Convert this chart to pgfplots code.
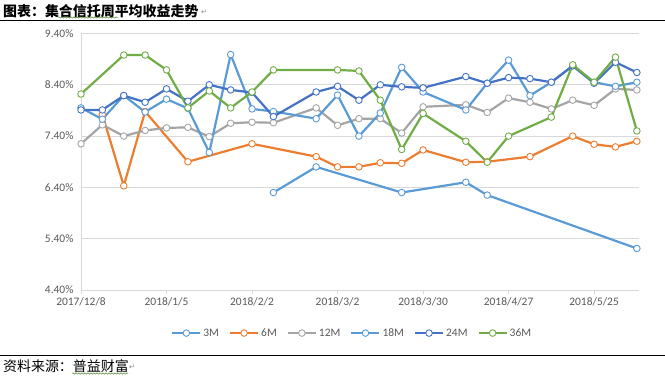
\documentclass[border=0pt]{standalone}
\usepackage{fontspec}
\setmainfont{Carlito}
\newfontfamily\cjk{Noto Sans CJK SC}
\newfontfamily\djv{DejaVu Sans}
\usepackage{pgfplots}
\pgfplotsset{compat=1.18}
\usetikzlibrary{decorations.pathmorphing}
\definecolor{cLB}{HTML}{5B9BD5}
\definecolor{cOR}{HTML}{ED7D31}
\definecolor{cGR}{HTML}{A5A5A5}
\definecolor{cDB}{HTML}{4472C4}
\definecolor{cGN}{HTML}{70AD47}
\definecolor{gridc}{HTML}{D9D9D9}
\definecolor{txt}{HTML}{595959}
\begin{document}
\begin{tikzpicture}
\path[use as bounding box] (0bp,0bp) rectangle (665bp,380bp);
% title
\node[anchor=west, inner sep=0pt] at (3bp,369bp) {\cjk\bfseries\fontsize{14}{16}\selectfont 图表：集合信托周平均收益走势};
\node[anchor=west, inner sep=0pt, text=gray] at (201bp,368bp) {\djv\fontsize{7}{8}\selectfont ↵};
\draw[line width=1.6bp] (0bp,359.3bp) -- (665bp,359.3bp);
\draw[cGN!80!black, line width=0.5bp, decorate, decoration={snake, amplitude=0.7bp, segment length=3bp}] (58bp,362.5bp) -- (118bp,362.5bp);
% footer
\draw[line width=1.2bp] (0bp,24.5bp) -- (665bp,24.5bp);
\node[anchor=west, inner sep=0pt] at (3bp,14bp) {\cjk\fontsize{14}{16}\selectfont 资料来源：普益财富};
\node[anchor=west, inner sep=0pt, text=gray] at (129bp,13bp) {\djv\fontsize{7}{8}\selectfont ↵};
\draw[cGN!80!black, line width=0.5bp, decorate, decoration={snake, amplitude=0.7bp, segment length=3bp}] (72bp,6.5bp) -- (128bp,6.5bp);
\begin{axis}[
  at={(81bp,90bp)}, anchor=south west,
  scale only axis, width=558bp, height=256.5bp,
  xmin=0, xmax=26.1, ymin=4.4, ymax=9.4,
  axis lines*=left,
  axis line style={draw=gridc, line width=0.75pt},
  ymajorgrids, grid style={draw=gridc, line width=0.75pt},
  xtick={0,4,8,12,16,20,24},
  xticklabels={2017/12/8,2018/1/5,2018/2/2,2018/3/2,2018/3/30,2018/4/27,2018/5/25},
  ytick={4.4,5.4,6.4,7.4,8.4,9.4},
  yticklabels={4.40\%,5.40\%,6.40\%,7.40\%,8.40\%,9.40\%},
  tick label style={font=\fontsize{11.5}{13}\selectfont, text=txt},
  x tick style={draw=gridc, line width=0.75pt},
  major tick length=4bp, tick align=outside,
  y tick style={draw=none},
  legend columns=6,
  legend style={draw=none, fill=none, at={(0.486,-0.168)}, anchor=center,
    font=\fontsize{11.5}{13}\selectfont, text=txt,
    /tikz/every even column/.append style={column sep=8bp}},
  legend image code/.code={\draw[mark repeat=2,mark phase=2] plot coordinates {(0bp,0bp) (14bp,0bp) (28bp,0bp)};},
  every axis plot/.append style={line width=2.2pt, line join=round, mark=*, mark size=3.3pt, mark options={fill=white, line width=0.9pt, solid}},
  clip=false,
]
\addplot[color=cLB] coordinates {(9,6.30) (11,6.80) (15,6.30) (18,6.50) (19,6.25) (26,5.21)};
\addlegendentry{3M}
\addplot[color=cOR] coordinates {(1,7.82) (2,6.43) (3,7.88) (5,6.90) (8,7.25) (11,7.00) (12,6.80) (13,6.80) (14,6.88) (15,6.87) (16,7.13) (18,6.89) (19,6.90) (21,7.00) (23,7.40) (24,7.24) (25,7.19) (26,7.30)};
\addlegendentry{6M}
\addplot[color=cGR] coordinates {(0,7.25) (1,7.62) (2,7.40) (3,7.51) (4,7.56) (5,7.57) (6,7.39) (7,7.65) (8,7.67) (9,7.66) (11,7.95) (12,7.61) (13,7.74) (14,7.74) (15,7.46) (16,7.97) (18,8.01) (19,7.86) (20,8.14) (21,8.06) (22,7.93) (23,8.10) (24,8.00) (25,8.32) (26,8.30)};
\addlegendentry{12M}
\addplot[color=cLB] coordinates {(0,7.95) (1,7.73) (2,8.19) (3,7.87) (4,8.12) (5,7.94) (6,7.08) (7,8.99) (8,7.93) (9,7.88) (11,7.74) (12,8.20) (13,7.40) (14,7.85) (15,8.74) (16,8.26) (18,7.91) (19,8.43) (20,8.88) (21,8.19) (22,8.45) (23,8.77) (24,8.45) (25,8.37) (26,8.45)};
\addlegendentry{18M}
\addplot[color=cDB] coordinates {(0,7.91) (1,7.91) (2,8.19) (3,8.06) (4,8.32) (5,8.08) (6,8.40) (7,8.30) (8,8.25) (9,7.78) (11,8.26) (12,8.37) (13,8.10) (14,8.40) (15,8.36) (16,8.34) (18,8.56) (19,8.43) (20,8.54) (21,8.52) (22,8.45) (23,8.77) (24,8.43) (25,8.84) (26,8.64)};
\addlegendentry{24M}
\addplot[color=cGN] coordinates {(0,8.22) (2,8.98) (3,8.98) (4,8.69) (5,7.95) (6,8.28) (7,7.95) (8,8.26) (9,8.69) (12,8.69) (13,8.67) (14,8.10) (15,7.14) (16,7.84) (18,7.30) (19,6.89) (20,7.40) (22,7.77) (23,8.79) (24,8.45) (25,8.94) (26,7.50)};
\addlegendentry{36M}
\end{axis}
\end{tikzpicture}
\end{document}
